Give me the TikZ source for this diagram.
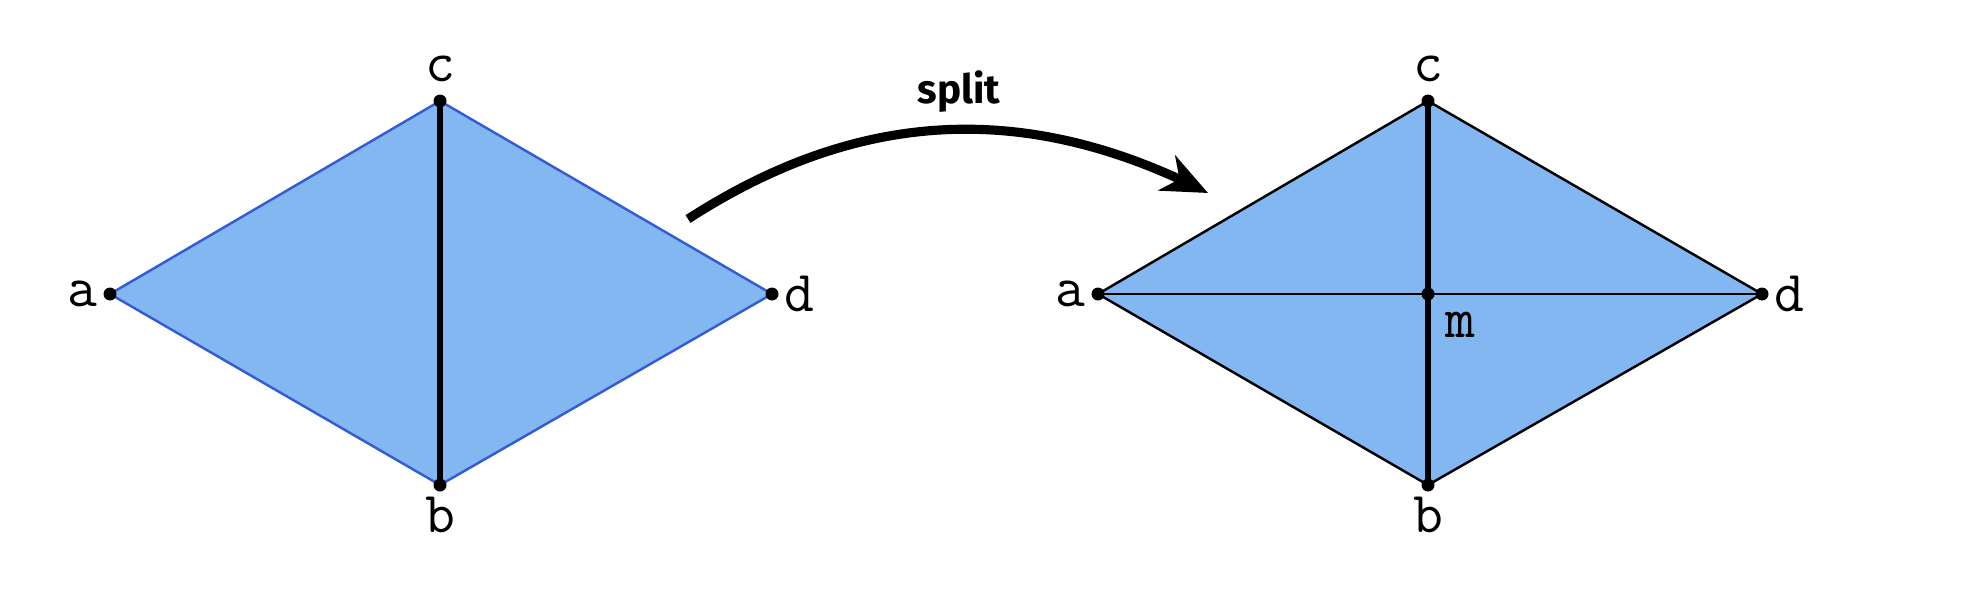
\documentclass[tikz,border=0pt]{standalone}
\usepackage{fontspec}
\newfontfamily\verbfont{Fira Sans}
\usetikzlibrary{arrows.meta,bending}
\definecolor{ink}{RGB}{0,0,0}
\definecolor{face}{RGB}{131,183,242}
\definecolor{rim}{RGB}{52,92,212}
\tikzset{
  every picture/.style={color=ink, line width=0.7pt},
  patch/.style={fill=face},
  rimline/.style={draw=rim, line width=0.7pt},
  hull/.style={draw=ink, line width=0.7pt},
  edge/.style={draw=ink, line width=1.8pt},
  vtx/.style={circle, fill=ink, inner sep=0pt, minimum size=1.3mm, label distance=1pt},
  tag/.style={font=\ttfamily\fontsize{16.5}{18}\selectfont, inner sep=1pt},
  move/.style={-{Stealth[length=13pt,width=11pt,inset=4pt]}, line width=2.6pt},
  verb/.style={font=\verbfont\bfseries\fontsize{11.5}{13}\selectfont, inner sep=1pt},
}

\begin{document}
\begin{tikzpicture}
  \useasboundingbox (0,0) rectangle (19.66,5.88);
  % before the split
  \coordinate (La) at (1.10,2.94);
  \coordinate (Lc) at (4.40,4.87);
  \coordinate (Lb) at (4.40,1.03);
  \coordinate (Ld) at (7.72,2.94);
  \fill[patch] (La) -- (Lc) -- (Ld) -- (Lb) -- cycle;
  \draw[rimline] (La) -- (Lc) -- (Ld) -- (Lb) -- cycle;
  \draw[edge] (Lc) -- (Lb);
  \node[vtx, label={[tag]left:a}] (La dot) at (La) {};
  \node[vtx, label={[tag, label distance=2pt]above:c}] (Lc dot) at (Lc) {};
  \node[vtx, label={[tag]below:b}] (Lb dot) at (Lb) {};
  \node[vtx, label={[tag]right:d}] (Ld dot) at (Ld) {};
  % after the split
  \coordinate (Ra) at (10.98,2.94);
  \coordinate (Rc) at (14.28,4.87);
  \coordinate (Rb) at (14.28,1.03);
  \coordinate (Rd) at (17.62,2.94);
  \coordinate (Rm) at (14.28,2.94);
  \fill[patch] (Ra) -- (Rc) -- (Rd) -- (Rb) -- cycle;
  \draw[hull] (Ra) -- (Rc) -- (Rd) -- (Rb) -- cycle;
  \draw[hull] (Ra) -- (Rd);
  \draw[edge] (Rc) -- (Rb);
  \node[vtx, label={[tag]left:a}] (Ra dot) at (Ra) {};
  \node[vtx, label={[tag, label distance=2pt]above:c}] (Rc dot) at (Rc) {};
  \node[vtx, label={[tag]below:b}] (Rb dot) at (Rb) {};
  \node[vtx, label={[tag]right:d}] (Rd dot) at (Rd) {};
  \node[vtx, label={[tag, label distance=3pt]-45:m}] (Rm dot) at (Rm) {};
  % split arrow
  \coordinate (arc start) at (6.88,3.69);
  \coordinate (arc end) at (12.08,3.95);
  \draw[move] (arc start) to[bend left=30] (arc end);
  \node[verb] (split) at (9.59,4.96) {split};
\end{tikzpicture}
\end{document}
